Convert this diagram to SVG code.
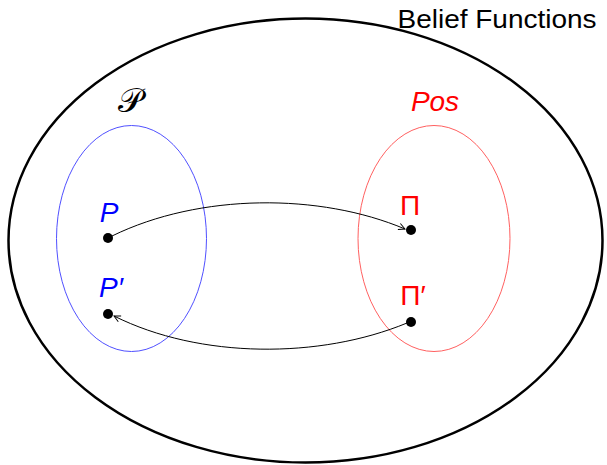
<svg xmlns="http://www.w3.org/2000/svg" width="607" height="465" viewBox="0 0 607 465">
<style>
.lbl{font-family:"Liberation Sans",Arial,sans-serif;font-size:28px;text-anchor:middle}
.dot{fill:#000}
.conn{fill:none;stroke:#000;stroke-width:1}
</style>
<defs>
<marker id="arr" viewBox="0 0 10 10" refX="9" refY="5" markerWidth="8" markerHeight="8" orient="auto" markerUnits="userSpaceOnUse">
<path d="M1,1 L9,5 L1,9" fill="none" stroke="#000" stroke-width="1.2"/>
</marker>
</defs>
<rect width="607" height="465" fill="#fff"/>
<g id="belief">
<ellipse cx="305.5" cy="240.5" rx="297" ry="222" fill="none" stroke="#000" stroke-width="2.5"/>
<text x="497" y="28" font-family="'Liberation Sans',Arial,sans-serif" font-size="26" text-anchor="middle" textLength="199" lengthAdjust="spacingAndGlyphs">Belief Functions</text>
</g>
<g id="probset">
<ellipse cx="131.5" cy="238.5" rx="75" ry="113" fill="none" stroke="#5050ff" stroke-width="1"/>
<text x="130" y="112" font-family="'DejaVu Sans',sans-serif" font-size="34" text-anchor="middle">𝒫</text>
</g>
<g id="posset">
<ellipse cx="434" cy="238.5" rx="76" ry="113" fill="none" stroke="#ff6060" stroke-width="1"/>
<text class="lbl" x="435" y="111" fill="#ff0000" font-style="italic" font-size="27">Pos</text>
</g>
<g id="P">
<circle class="dot" cx="108" cy="238" r="5"/>
<text class="lbl" x="109" y="222" fill="#0000ff" font-style="italic">P</text>
</g>
<g id="Pprime">
<circle class="dot" cx="108" cy="314" r="5"/>
<text class="lbl" x="111" y="297" fill="#0000ff" font-style="italic">P′</text>
</g>
<g id="Pi">
<circle class="dot" cx="411" cy="230" r="5"/>
<text class="lbl" x="410" y="215" fill="#ff0000">Π</text>
</g>
<g id="Piprime">
<circle class="dot" cx="411" cy="322" r="5"/>
<text class="lbl" x="413" y="305" fill="#ff0000">Π′</text>
</g>
<g id="connectors">
<path class="conn" d="M112,236 C200,193 320,193 405,229" marker-end="url(#arr)"/>
<path class="conn" d="M407,323 C320,359 200,359 114,316" marker-end="url(#arr)"/>
</g>
</svg>
